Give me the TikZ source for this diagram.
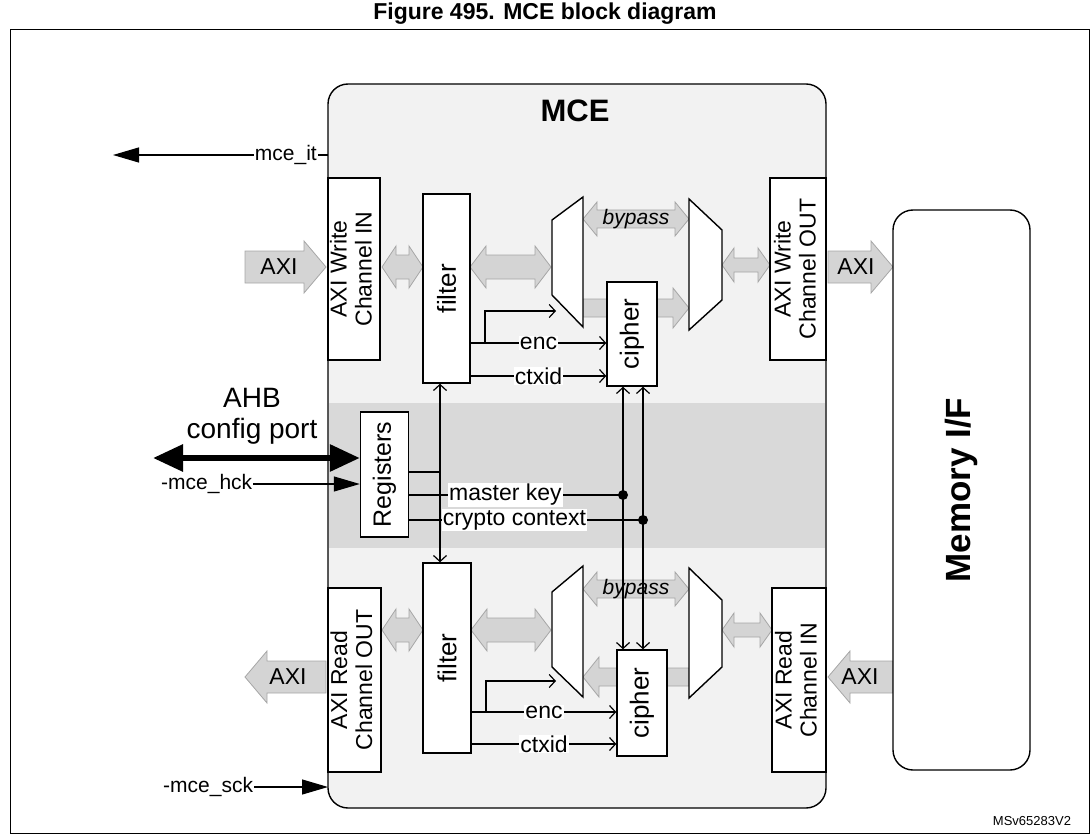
\documentclass[tikz,border=0pt]{standalone}
\usepackage{fontspec}
\setmainfont{Liberation Sans}
\usetikzlibrary{arrows.meta}
\definecolor{mcefill}{HTML}{F2F2F2}
\definecolor{bandfill}{HTML}{D9D9D9}
\definecolor{busfill}{HTML}{D4D4D4}
% fat double bus: x1, x2, y, half shaft, half head, head length
\newcommand\dbus[6]{\draw[busline] (#1,#3) -- ++(#6,-#5) -- ++(0,#5-#4) -- (#2-#6,#3-#4) -- ++(0,#4-#5) -- (#2,#3) -- ++(-#6,#5) -- ++(0,#4-#5) -- (#1+#6,#3+#4) -- ++(0,#5-#4) -- cycle;}
% fat single bus: tail x, tip x, y, half shaft, half head, signed head length
\newcommand\sbus[6]{\draw[busline] (#1,#3-#4) -- (#2-#6,#3-#4) -- ++(0,#4-#5) -- (#2,#3) -- (#2-#6,#3+#5) -- ++(0,#4-#5) -- (#1,#3+#4) -- cycle;}
\begin{document}
\begin{tikzpicture}[x=1pt,y=-1pt,font=\fontsize{23}{25}\selectfont,
	box/.style={draw,fill=white,line width=1.4pt,inner sep=0,align=center},
	busline/.style={draw=gray!70,fill=busfill,line width=0.8pt},
	sig/.style={line width=1.2pt,-{Straight Barb[length=6pt,width=13pt]}},
	both/.style={line width=1.2pt,{Straight Barb[length=6pt,width=13pt]}-{Straight Barb[length=6pt,width=13pt]}},
	lbl/.style={fill=white,inner sep=1pt},
	pinfont/.style={font=\fontsize{21}{23}\selectfont},
	pin/.style={line width=1.2pt,-{Triangle[length=26pt,width=15pt]}}]
	\useasboundingbox (0,0) rectangle (1091,834);
	\node[font=\fontsize{23}{25}\selectfont\bfseries] (title) at (545,14) {Figure 495. MCE block diagram};
	\draw[line width=1pt] (10,30) rectangle (1089,833);

	% MCE block with the config band
	\draw[line width=1.4pt,fill=mcefill,rounded corners=20pt] (328,84) rectangle (826,808);
	\fill[bandfill] (329,403) rectangle (825,548);
	\node[font=\fontsize{31}{33}\selectfont\bfseries] (mce) at (575,111) {MCE};

	% gray buses
	\dbus{382}{423}{267}{12}{21}{14}
	\dbus{470}{551}{267}{12}{21}{16}
	\dbus{722}{770}{265}{7}{17}{12}
	\dbus{382}{423}{630}{12}{21}{14}
	\dbus{471}{551}{630}{12}{21}{16}
	\dbus{722}{772}{630}{7}{17}{12}
	\dbus{583}{689}{219}{9}{17}{14}
	\dbus{583}{689}{589}{9}{17}{14}
	\sbus{583}{689}{308}{9}{20}{16}
	\sbus{689}{583}{677}{9}{20}{-16}
	\sbus{245}{326}{267}{16}{26}{22}
	\sbus{828}{893}{267}{16}{26}{22}
	\sbus{326}{245}{677}{16}{26}{-22}
	\sbus{893}{828}{677}{16}{26}{-22}
	\node (axi1) at (279,267) {AXI};
	\node (axi2) at (856,267) {AXI};
	\node (axi3) at (288,677) {AXI};
	\node (axi4) at (860,677) {AXI};
	\node[font=\fontsize{21}{23}\selectfont\itshape] (bp1) at (636,219) {bypass};
	\node[font=\fontsize{21}{23}\selectfont\itshape] (bp2) at (636,589) {bypass};

	% boxes
	\node[box,minimum width=52,minimum height=182] (wIn) at (354,269) {\rotatebox{90}{\begin{tabular}{@{}c@{}}AXI Write\\Channel IN\end{tabular}}};
	\node[box,minimum width=47,minimum height=189,font=\fontsize{26}{28}\selectfont] (fT) at (446.5,288.5) {\rotatebox{90}{filter}};
	\node[box,minimum width=50,minimum height=104,font=\fontsize{26}{28}\selectfont] (cT) at (632,334) {\rotatebox{90}{cipher}};
	\node[box,minimum width=56,minimum height=182] (wOut) at (798,269) {\rotatebox{90}{\begin{tabular}{@{}c@{}}AXI Write\\Channel OUT\end{tabular}}};
	\node[box,minimum width=48,minimum height=125,font=\fontsize{25}{27}\selectfont] (reg) at (384.5,474.5) {\rotatebox{90}{Registers}};
	\node[box,minimum width=48,minimum height=190,font=\fontsize{26}{28}\selectfont] (fB) at (447,658) {\rotatebox{90}{filter}};
	\node[box,minimum width=53,minimum height=184] (rOut) at (354.5,680) {\rotatebox{90}{\begin{tabular}{@{}c@{}}AXI Read\\Channel OUT\end{tabular}}};
	\node[box,minimum width=50,minimum height=106,font=\fontsize{26}{28}\selectfont] (cB) at (642,703) {\rotatebox{90}{cipher}};
	\node[box,minimum width=54,minimum height=184] (rIn) at (799,680) {\rotatebox{90}{\begin{tabular}{@{}c@{}}AXI Read\\Channel IN\end{tabular}}};
	\node[box,rounded corners=20pt,minimum width=137,minimum height=560,font=\fontsize{35}{37}\selectfont\bfseries] (mem) at (961.5,490) {\rotatebox{90}{Memory I/F}};

	% muxes
	\draw[box] (552,220) -- (583,197) -- (583,327) -- (552,295) -- cycle;
	\draw[box] (689,199) -- (722,230) -- (722,300) -- (689,330) -- cycle;
	\draw[box] (552,592) -- (583,566) -- (583,697) -- (552,667) -- cycle;
	\draw[box] (689,568) -- (722,600) -- (722,667) -- (689,698) -- cycle;

	% filter to cipher signals
	\draw[sig] (fT.east |- 0,343) -- node[lbl] {enc} (cT.west |- 0,343);
	\draw[sig] (fT.east |- 0,376) -- node[lbl] {ctxid} (cT.west |- 0,376);
	\draw[sig] (485,343) -- (485,311) -- (556,311);
	\draw[sig] (fB.east |- 0,712) -- node[lbl] {enc} (cB.west |- 0,712);
	\draw[sig] (fB.east |- 0,744) -- node[lbl] {ctxid} (cB.west |- 0,744);
	\draw[sig] (486,712) -- (486,681) -- (556,681);

	% registers
	\draw[both] (fT.south -| 440,0) -- (fB.north -| 440,0);
	\draw[line width=1.2pt] (reg.east |- 0,472) -- (440,472);
	\draw[both] (cT.south -| 623,0) -- (cB.north -| 623,0);
	\draw[both] (cT.south -| 643,0) -- (cB.north -| 643,0);
	\draw[line width=1.2pt] (reg.east |- 0,495) -- node[lbl,pos=0.45] {master key} (623,495);
	\draw[line width=1.2pt] (reg.east |- 0,520) -- node[lbl,pos=0.45] {crypto context} (643,520);
	\fill (623,495) circle (5pt) (643,520) circle (5pt);

	% outside ports
	\node[align=center,font=\fontsize{28}{31}\selectfont] (ahb) at (252,416) {AHB\\config port};
	\draw[line width=6pt,{Triangle[length=30pt,width=26pt]}-{Triangle[length=30pt,width=26pt]}] (153,458) -- (reg.west |- 0,458);
	\node[pinfont,anchor=east,inner sep=1pt] (it) at (318,155) {mce\_it};
	\draw[pin] (it.west) -- (113,155);
	\draw[line width=1.2pt] (it.east) -- (328,155);
	\node[pinfont,anchor=west,inner sep=1pt] (hck) at (160,484) {-mce\_hck};
	\draw[pin] (hck.east) -- (reg.west |- 0,484);
	\node[pinfont,anchor=west,inner sep=1pt] (sck) at (162,787) {-mce\_sck};
	\draw[pin] (sck.east) -- (328,787);
	\node[font=\fontsize{13}{14}\selectfont] (ref) at (1032,821) {MSv65283V2};
\end{tikzpicture}
\end{document}
